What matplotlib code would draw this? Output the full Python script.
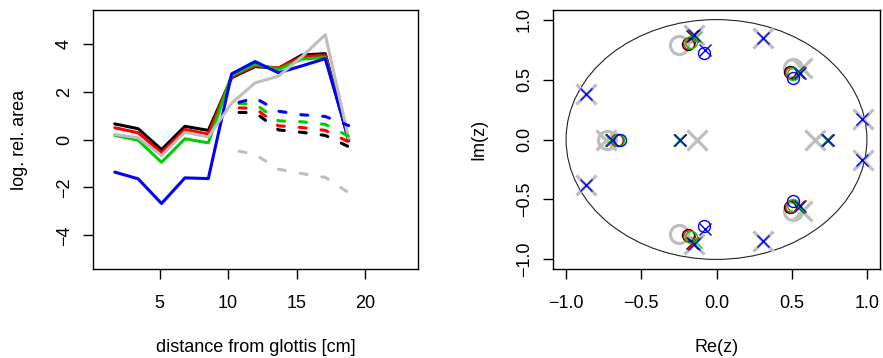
import matplotlib
matplotlib.use("Agg")
import matplotlib.pyplot as plt
from matplotlib.patches import Circle

plt.rcParams['font.family'] = ['Liberation Sans', 'DejaVu Sans']

# ---- left panel: log relative area along the tract ----
dist = [1.71, 3.42, 5.13, 6.84, 8.55, 10.26, 11.97, 13.68, 15.39, 17.10, 18.81]
area_black = [0.65, 0.45, -0.42, 0.55, 0.38, 2.58, 3.04, 2.97, 3.52, 3.58, -0.05]
area_red = [0.49, 0.28, -0.55, 0.42, 0.22, 2.62, 3.08, 2.98, 3.45, 3.52, -0.02]
area_green = [0.17, -0.03, -0.95, 0.03, -0.14, 2.68, 3.14, 2.92, 3.35, 3.42, 0.0]
area_blue = [-1.36, -1.64, -2.67, -1.60, -1.63, 2.74, 3.25, 2.78, 3.07, 3.37, 0.02]
area_gray = [0.21, 0.07, -0.67, 0.30, 0.11, 1.52, 2.36, 2.64, 3.45, 4.37, 0.05]

dist_d = [10.8, 11.97, 13.68, 15.39, 17.10, 18.81]
dash_black = [1.13, 1.12, 0.40, 0.30, 0.17, -0.30]
dash_red = [1.32, 1.30, 0.57, 0.50, 0.38, -0.10]
dash_green = [1.50, 1.48, 0.78, 0.74, 0.63, 0.14]
dash_blue = [1.55, 1.73, 1.18, 1.03, 0.96, 0.58]
dash_gray = [-0.49, -0.62, -1.24, -1.42, -1.58, -2.22]

# ---- right panel: poles (x) and zeros (o) ----
gray_pole_re = [-0.15, -0.15, 0.31, 0.31, 0.566, 0.566, -0.867, -0.867, 0.972, 0.972, -0.737, -0.132, 0.655]
gray_pole_im = [0.87, -0.87, 0.845, -0.845, 0.60, -0.60, 0.383, -0.383, 0.17, -0.17, 0.0, 0.0, 0.0]
gray_zero_re = [-0.25, -0.25, 0.51, 0.51, -0.73]
gray_zero_im = [0.785, -0.785, 0.60, -0.60, 0.0]

black_pole_re = [-0.16, -0.16, 0.545, 0.545, -0.70, -0.245, 0.735]
black_pole_im = [0.865, -0.865, 0.56, -0.56, 0.0, 0.0, 0.0]
red_pole_re = [-0.155, -0.155, 0.55, 0.55, -0.698, -0.244, 0.738]
red_pole_im = [0.865, -0.865, 0.558, -0.558, 0.0, 0.0, 0.0]
green_pole_re = [-0.137, -0.137, 0.55, 0.55, -0.70, -0.247, 0.736]
green_pole_im = [0.855, -0.855, 0.565, -0.565, 0.0, 0.0, 0.0]
blue_pole_re = [-0.15, -0.15, 0.555, 0.555, -0.696, -0.243, 0.743, 0.31, 0.31,
                -0.867, -0.867, 0.969, 0.969, -0.075, -0.075]
blue_pole_im = [0.87, -0.87, 0.555, -0.555, 0.0, 0.0, 0.0, 0.845, -0.845,
                0.383, -0.383, 0.17, -0.17, 0.75, -0.75]

black_zero_re = [-0.19, -0.19, 0.488, 0.488, -0.663]
black_zero_im = [0.80, -0.80, 0.565, -0.565, 0.0]
red_zero_re = [-0.18, -0.18, 0.497, 0.497, -0.66]
red_zero_im = [0.805, -0.805, 0.555, -0.555, 0.0]
green_zero_re = [-0.168, -0.168, 0.508, 0.508, -0.655]
green_zero_im = [0.815, -0.815, 0.545, -0.545, 0.0]
blue_zero_re = [-0.085, -0.085, 0.506, 0.506, -0.641]
blue_zero_im = [0.72, -0.72, 0.51, -0.51, 0.0]

BLACK, RED, GREEN, BLUE, GRAY = '#000000', '#FF0000', '#00CD00', '#0000FF', '#BEBEBE'
FS = 13

fig = plt.figure(figsize=(8.83, 3.58), dpi=100)
ax1 = fig.add_axes([93 / 883, 1 - 269 / 358, 325 / 883, 259 / 358])
ax2 = fig.add_axes([553 / 883, 1 - 269 / 358, 327 / 883, 259 / 358])

lw = 2.2
dash = (0, (2.3, 4.9))
for y, c in [(area_black, BLACK), (area_red, RED), (area_green, GREEN),
             (area_blue, BLUE), (area_gray, GRAY)]:
    ax1.plot(dist, y, color=c, lw=lw, solid_capstyle='round', solid_joinstyle='round')
for y, c in [(dash_black, BLACK), (dash_red, RED), (dash_green, GREEN),
             (dash_blue, BLUE), (dash_gray, GRAY)]:
    ax1.plot(dist_d, y, color=c, lw=lw, linestyle=dash, dash_capstyle='round',
             dash_joinstyle='round')

ax1.set_xlim(0.12, 23.88)
ax1.set_ylim(-5.4, 5.4)
ax1.set_xticks([5, 10, 15, 20])
ax1.set_yticks([-4, -2, 0, 2, 4])
ax1.set_xlabel('distance from glottis [cm]', fontsize=FS)
ax1.set_ylabel('log. rel. area', fontsize=FS)

# right panel
ax2.add_patch(Circle((0, 0), 1, fill=False, color='#222222', lw=0.8))
ax2.plot(gray_pole_re, gray_pole_im, 'x', color=GRAY, ms=14, mew=2.3, ls='none')
ax2.plot(gray_zero_re, gray_zero_im, 'o', color=GRAY, ms=13, mew=2.3, mfc='none', ls='none')
for pr, pi, zr, zi, c in [
        (black_pole_re, black_pole_im, black_zero_re, black_zero_im, BLACK),
        (red_pole_re, red_pole_im, red_zero_re, red_zero_im, RED),
        (green_pole_re, green_pole_im, green_zero_re, green_zero_im, GREEN),
        (blue_pole_re, blue_pole_im, blue_zero_re, blue_zero_im, BLUE)]:
    ax2.plot(pr, pi, 'x', color=c, ms=8.6, mew=1.0, ls='none')
    ax2.plot(zr, zi, 'o', color=c, ms=8.6, mew=1.0, mfc='none', ls='none')

ax2.set_xlim(-1.087, 1.087)
ax2.set_ylim(-1.08, 1.08)
ticks = [-1.0, -0.5, 0.0, 0.5, 1.0]
ax2.set_xticks(ticks)
ax2.set_yticks(ticks)
ax2.set_xticklabels(['\u22121.0', '\u22120.5', '0.0', '0.5', '1.0'])
ax2.set_yticklabels(['\u22121.0', '\u22120.5', '0.0', '0.5', '1.0'])
ax2.set_xlabel('Re(z)', fontsize=FS)
ax2.set_ylabel('Im(z)', fontsize=FS)

for ax in (ax1, ax2):
    for s in ax.spines.values():
        s.set_linewidth(1.0)
    ax.tick_params(axis='both', length=7.5, width=1.0, labelsize=FS, direction='out')
    ax.tick_params(axis='x', pad=11)
    ax.tick_params(axis='y', pad=7, labelrotation=90)
    for lab in ax.get_yticklabels():
        lab.set_va('center')
    ax.xaxis.set_label_coords(0.5, -0.272)
    ax.yaxis.set_label_coords(-0.2, 0.5)

fig.savefig('out.png', dpi=100)
